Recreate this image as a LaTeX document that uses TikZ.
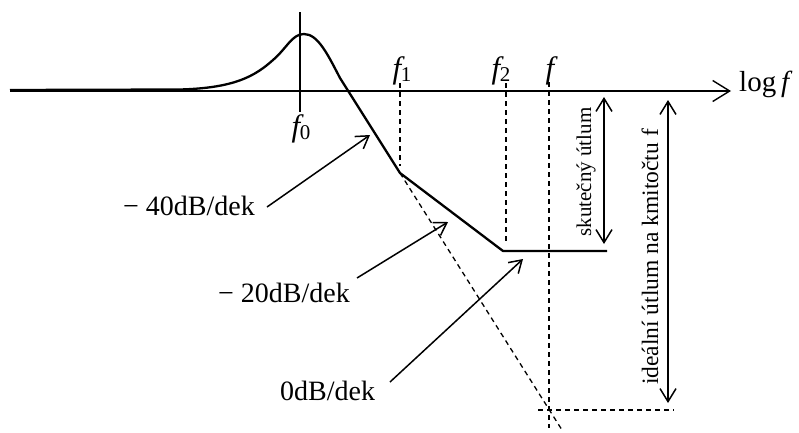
\documentclass[tikz,border=0pt]{standalone}
\usepackage{fontspec}
\setmainfont{Liberation Serif}
\usetikzlibrary{arrows.meta}
\newcommand\fsubscr[1]{{\itshape f}\kern-0.5pt\raisebox{-3pt}{\fontsize{21}{21}\selectfont #1}}
\begin{document}
\begin{tikzpicture}[x=1pt,y=-1pt,
  curve/.style={line width=2.3pt, line join=round},
  axis/.style={line width=1.4pt},
  dsh/.style={line width=1.3pt, dash pattern=on 5pt off 4pt},
  lblarrow/.style={line width=1.5pt, -{Straight Barb[length=12pt,width=15pt]}},
  dimarrow/.style={line width=1.5pt, {Straight Barb[length=13pt,width=16pt]}-{Straight Barb[length=13pt,width=16pt]}},
  lbl/.style={font=\fontsize{28}{30}\selectfont, inner sep=0pt, anchor=base west},
  flbl/.style={font=\fontsize{31}{32}\selectfont, inner sep=0pt, anchor=base},
  vlbl/.style={rotate=90, anchor=base, inner sep=0pt},
]
\useasboundingbox (0,0) rectangle (799,432);

% axis
\coordinate (axL) at (10,91);
\coordinate (axR) at (731,91);
\draw[axis, -{Straight Barb[length=17pt,width=21pt]}] (axL) -- (axR);
\node[lbl, font=\fontsize{29}{30}\selectfont] (logf) at (739,91) {log\,\textit{f}};

% f0 line
\coordinate (f0T) at (300,12);
\coordinate (f0B) at (300,112);
\draw[axis] (f0T) -- (f0B);

% dashed lines
\coordinate (f1T) at (400,83);  \coordinate (f1B) at (400,166);
\coordinate (f2T) at (506,83);  \coordinate (f2B) at (506,243);
\coordinate (fT) at (549,82);   \coordinate (fB) at (549,428);
\coordinate (knee1) at (400,173);
\coordinate (knee2) at (503,251);
\coordinate (extEnd) at (562,430);
\coordinate (hL) at (538,410);  \coordinate (hR) at (674,410);
\draw[dsh] (f1T) -- (f1B);
\draw[dsh] (f2T) -- (f2B);
\draw[dsh] (fT) -- (fB);
\draw[dsh] (knee1) -- (extEnd);
\draw[dsh] (hL) -- (hR);

% response curve
\coordinate (start) at (10,90);
\coordinate (peak) at (304,34);
\coordinate (endc) at (607,251);
\draw[curve] (start) -- (180,89.5) .. controls (235,88) and (255,76) .. (273,60)
  .. controls (287,48) and (292,34) .. (peak)
  .. controls (318,34) and (328,55) .. (340,78) -- (knee1) -- (knee2) -- (endc);

% f labels
\node[flbl] (f0) at (301,136) {\fsubscr{0}};
\node[flbl] (f1) at (402,78) {\fsubscr{1}};
\node[flbl] (f2) at (501,78) {\fsubscr{2}};
\node[flbl] (fl) at (550,78) {\itshape f};

% slope labels
\node[lbl] (l40) at (123,215) {− 40dB/dek};
\node[lbl] (l20) at (218,302) {− 20dB/dek};
\node[lbl] (l0) at (280,400) {0dB/dek};
\coordinate (s40) at (267,207); \coordinate (t40) at (370,135);
\coordinate (s20) at (357,278); \coordinate (t20) at (448,222);
\coordinate (s0) at (390,382);  \coordinate (t0) at (523,259);
\draw[lblarrow] (s40) -- (t40);
\draw[lblarrow] (s20) -- (t20);
\draw[lblarrow] (s0) -- (t0);

% attenuation arrows
\coordinate (skT) at (604,97);  \coordinate (skB) at (604,244);
\coordinate (idT) at (668,100); \coordinate (idB) at (668,403);
\draw[dimarrow] (skT) -- (skB);
\draw[dimarrow] (idT) -- (idB);
\node[vlbl, font=\fontsize{21}{21}\selectfont] (sk) at (591,172) {skutečný útlum};
\node[vlbl, font=\fontsize{23.5}{24}\selectfont] (id) at (658,257) {ideální útlum na kmitočtu f};
\end{tikzpicture}
\end{document}
